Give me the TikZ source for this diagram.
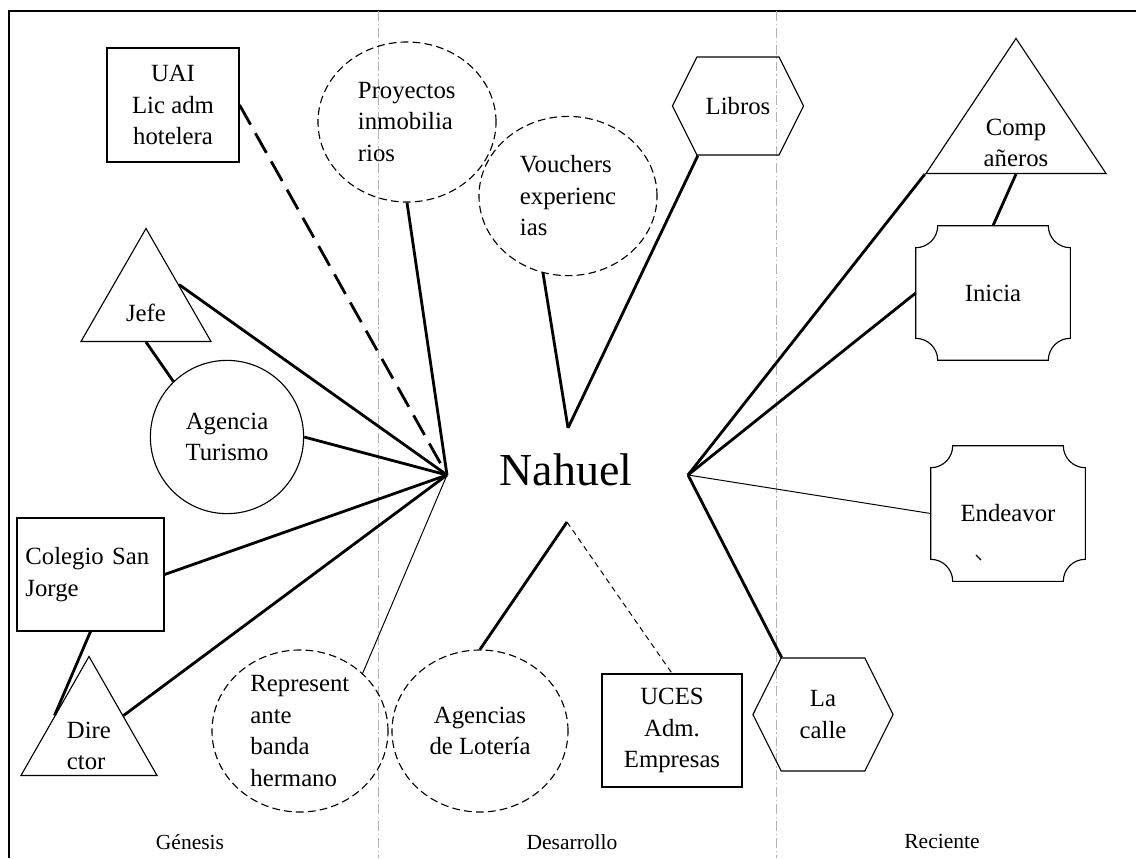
\documentclass[tikz,border=0pt]{standalone}
\usepackage{fontspec}
\setmainfont{Liberation Serif}
\usetikzlibrary{shapes.geometric,shapes.symbols}

\newcommand{\plaqueline}[1]{%
  \draw[line width=0.8pt] ([xshift=0.55cm]#1.north west) -- ([xshift=-0.55cm]#1.north east)
    arc[start angle=180, end angle=270, radius=0.55cm] -- ([yshift=0.55cm]#1.south east)
    arc[start angle=90, end angle=180, radius=0.55cm] -- ([xshift=0.55cm]#1.south west)
    arc[start angle=0, end angle=90, radius=0.55cm] -- ([yshift=-0.55cm]#1.north west)
    arc[start angle=270, end angle=360, radius=0.55cm] -- cycle;}

\begin{document}
\begin{tikzpicture}[x=0.025cm, y=0.025cm,
    every node/.style={font=\fontsize{17.6}{22.4}\selectfont, inner sep=0pt},
    box/.style={draw, line width=0.8pt, rectangle},
    bubble/.style={draw, line width=0.8pt, dash pattern=on 5.5pt off 3pt, ellipse},
    tri/.style={draw, line width=0.8pt, isosceles triangle, isosceles triangle stretches,
      shape border rotate=90, anchor=apex},
    hexa/.style={draw, line width=0.8pt, signal, signal to=east and west, signal pointer angle=127},
    plate/.style={rectangle, minimum width=3.85cm},
    link/.style={line width=2pt},
    thinlink/.style={line width=0.7pt},
    divider/.style={gray!60, line width=0.6pt, dash pattern=on 7pt off 2pt on 1pt off 2pt},
    era/.style={font=\fontsize{15.3}{18}\selectfont}]

  \useasboundingbox (0,0) rectangle (1136,-858);

  % frame and periods
  \draw[line width=2pt] (1136,-11) -- (9,-11) -- (9,-858);
  \draw[divider] (378,-11) -- (378,-858);
  \draw[divider] (776,-11) -- (776,-858);
  \node[era] (genesis) at (190,-842) {Génesis};
  \node[era] (desarrollo) at (572,-842) {Desarrollo};
  \node[era] (reciente) at (942,-841) {Reciente};

  % centre
  \node[font=\fontsize{32.6}{36}\selectfont] (nahuel) at (566,-470) {Nahuel};
  \coordinate (hubL) at (447,-475);
  \coordinate (hubR) at (688,-475);
  \coordinate (hubT) at (568,-428);
  \coordinate (hubB) at (567,-522);

  % genesis
  \node[box, minimum width=3.3cm, minimum height=2.85cm, align=center] (uai) at (173,-105) {UAI\\Lic adm\\hotelera};
  \node[tri, minimum width=3.25cm, minimum height=2.825cm] (jefe) at (146,-227) {};
  \node (jefe-txt) at (146,-313) {Jefe};
  \node[circle, draw, line width=0.8pt, minimum size=3.83cm, align=center] (turismo) at (227,-437) {Agencia\\Turismo};
  \node[box, minimum width=3.675cm, minimum height=2.825cm, text width=3.25cm, align=left] (colegio) at (90.5,-574.5) {Colegio San\\Jorge};
  \node[tri, minimum width=3.4cm, minimum height=2.975cm] (director) at (89,-655) {};
  \node[text width=1.1cm, align=left] (director-txt) at (89,-746) {Dire\\ctor};
  \node[bubble, minimum width=4.4cm, minimum height=4.05cm, text width=2.48cm, align=left] (banda) at (300,-731) {Represent\\ante\\banda\\hermano};

  % desarrollo
  \node[bubble, minimum width=4.45cm, minimum height=4cm, text width=2.45cm, align=left] (proyectos) at (407,-122) {Proyectos\\inmobilia\\rios};
  \node[bubble, minimum width=4.45cm, minimum height=3.98cm, text width=2.4cm, align=left] (vouchers) at (568,-196) {Vouchers\\experienc\\ias};
  \node[hexa, minimum width=3.275cm, minimum height=2.45cm] (libros) at (738,-106) {Libros};
  \node[bubble, minimum width=4.4cm, minimum height=4.05cm, align=center] (loteria) at (480,-731) {Agencias\\de Lotería};
  \node[box, minimum width=3.5cm, minimum height=2.825cm, align=center] (uces) at (672,-730.5) {UCES\\Adm.\\Empresas};

  % reciente
  \node[tri, minimum width=4.5cm, minimum height=3.375cm] (companeros) at (1016,-37) {};
  \node[align=center] (companeros-txt) at (1016,-143) {Comp\\añeros};
  \node[plate, minimum height=3.35cm] (inicia) at (993,-293) {Inicia};
  \plaqueline{inicia}
  \node[plate, minimum height=3.375cm] (endeavor) at (1008,-513.5) {Endeavor};
  \plaqueline{endeavor}
  \draw[line width=0.8pt] (976,-555) -- (981,-560);
  \node[hexa, minimum width=3.5cm, minimum height=2.825cm, align=center] (calle) at (823,-714.5) {La\\calle};

  % links
  \draw[link, dash pattern=on 16pt off 7pt] (uai.east) -- (hubL);
  \draw[link] (proyectos.south) -- (hubL);
  \draw[link] (jefe.right side) -- (hubL);
  \draw[link] (turismo.east) -- (hubL);
  \draw[link] (colegio.east) -- (hubL);
  \draw[link] (director.right side) -- (hubL);
  \draw[thinlink] (banda.north east) -- (hubL);
  \draw[link] (jefe.lower side) -- (turismo.134);
  \draw[link] (colegio.south) -- (director.left side);

  \draw[link] (vouchers.252) -- (hubT);
  \draw[link] (libros.231) -- (hubT);
  \draw[link] (loteria.north) -- (hubB);
  \draw[thinlink, dash pattern=on 4pt off 3pt] (hubB) -- (uces.north);

  \draw[link] (companeros.left corner) -- (hubR);
  \draw[link] (inicia.west) -- (hubR);
  \draw[thinlink] (endeavor.west) -- (hubR);
  \draw[link] (calle.126) -- (hubR);
  \draw[link] (companeros.lower side) -- (inicia.north);
\end{tikzpicture}
\end{document}
